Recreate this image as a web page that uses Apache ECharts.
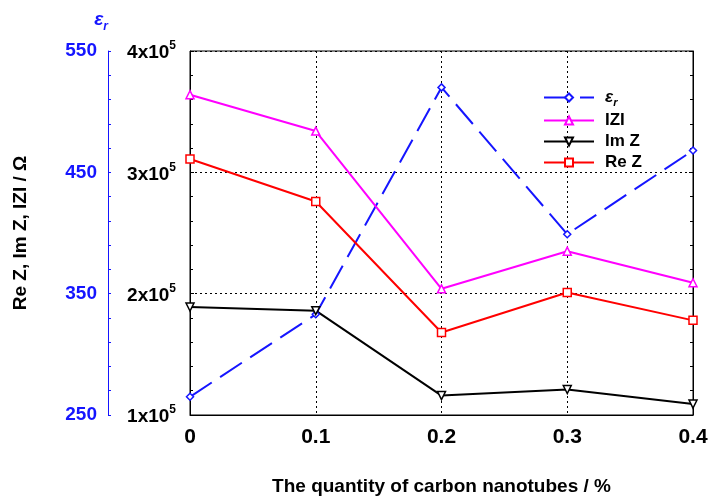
<!DOCTYPE html>
<html>
<head>
<meta charset="utf-8">
<script src="https://cdn.jsdelivr.net/npm/echarts@6/dist/echarts.min.js"></script>
<style>
    html, body {margin: 0; padding: 0; background: #fff;}
    #myCharts {width: 709px; height: 496px;}
</style>
</head>
<body>
<div id="myCharts"></div>
<script>
// 碳纳米管含量 / %
var cntContent = [0, 0.1, 0.2, 0.3, 0.4];
// 介电常数 εr
var epsValues = [265, 333, 520, 399, 468];
// 阻抗 |Z|, Im Z, Re Z (Ω)
var absZValues = [364000, 334000, 204000, 235000, 209000];
var imZValues = [189000, 186000, 116000, 121000, 109000];
var reZValues = [311000, 276000, 168000, 201000, 178000];
var zTicks = ['1x10', '2x10', '3x10', '4x10'];

function pairs(xs, ys) {
    var out = [];
    for (var i = 0; i < xs.length; i++) {
        out.push([xs[i], ys[i]]);
    }
    return out;
}

var font = 'Liberation Sans';
var blue = '#1515ff';

var myChart = echarts.init(document.getElementById('myCharts'));
var option = {
    backgroundColor: '#fff',
    animation: false,
    grid: {left: 190, right: 16, top: 51, bottom: 81, show: true, borderColor: '#000', borderWidth: 1,
        containLabel: false, outerBoundsMode: 'none'},
    legend: {
        orient: 'vertical',
        left: 543,
        top: 87,
        padding: 0,
        itemWidth: 50,
        itemHeight: 10,
        itemGap: 4,
        data: ['eps', 'IZI', 'Im Z', 'Re Z'],
        formatter: function (name) {
            if (name == 'eps') return '{e|ε}{r|r}';
            return name;
        },
        textStyle: {
            fontFamily: font, fontWeight: 'bold', fontSize: 17, color: '#000', lineHeight: 17, padding: [0, 0, 0, 6],
            rich: {
                e: {fontFamily: font, fontStyle: 'italic', fontWeight: 'bold', fontSize: 17, lineHeight: 17, color: '#000'},
                r: {fontFamily: font, fontStyle: 'italic', fontWeight: 'bold', fontSize: 11, lineHeight: 17, color: '#000', padding: [10, 0, 0, 0]}
            }
        }
    },
    xAxis: {
        type: 'value',
        min: 0, max: 0.4, interval: 0.1,
        name: 'The quantity of carbon nanotubes / %',
        nameLocation: 'middle',
        nameGap: 62,
        nameTextStyle: {fontFamily: font, fontWeight: 'bold', fontSize: 19, color: '#000'},
        axisLine: {lineStyle: {color: '#000', width: 1}},
        axisTick: {show: false},
        axisLabel: {fontFamily: font, fontWeight: 'bold', fontSize: 21, color: '#000', margin: 12,
            formatter: function (v) { return v === 0 ? '0' : v.toFixed(1); }},
        splitLine: {show: true, lineStyle: {color: '#000', type: [2, 3], width: 1}}
    },
    yAxis: [
        {
            type: 'value',
            position: 'left',
            min: 100000, max: 400000, interval: 100000,
            name: 'Re Z, Im Z, IZI / Ω',
            nameLocation: 'middle',
            nameGap: 160,
            nameTextStyle: {fontFamily: font, fontWeight: 'bold', fontSize: 19, color: '#000'},
            axisLine: {show: true, lineStyle: {color: '#000'}},
            axisTick: {show: true, inside: true, length: 4, lineStyle: {color: '#000'}},
            minorTick: {show: true, splitNumber: 5, length: 3, lineStyle: {color: '#000'}},
            axisLabel: {
                margin: 14,
                formatter: function (v) {
                    return '{a|' + zTicks[Math.round(v / 100000) - 1] + '}{s|5}';
                },
                rich: {
                    a: {fontFamily: font, fontWeight: 'bold', fontSize: 19, color: '#000', padding: [4, 0, 0, 0]},
                    s: {fontFamily: font, fontWeight: 'bold', fontSize: 12, color: '#000', padding: [0, 0, 10, 0]}
                }
            },
            splitLine: {show: true, lineStyle: {color: '#000', type: [2, 3], width: 1}}
        },
        {
            type: 'value',
            position: 'left',
            offset: 82,
            min: 250, max: 550, interval: 100,
            name: '{e|ε}{r|r}',
            nameLocation: 'end',
            nameGap: 18,
            nameTextStyle: {
                align: 'right',
                rich: {
                    e: {fontFamily: font, fontStyle: 'italic', fontWeight: 'bold', fontSize: 19, color: blue},
                    r: {fontFamily: font, fontStyle: 'italic', fontWeight: 'bold', fontSize: 12, color: blue, padding: [14, 0, 0, 0]}
                }
            },
            axisLine: {show: true, lineStyle: {color: blue, width: 1}},
            axisTick: {show: true, inside: true, length: 3, lineStyle: {color: blue}},
            minorTick: {show: true, splitNumber: 5, length: 3, lineStyle: {color: blue}},
            axisLabel: {fontFamily: font, fontWeight: 'bold', fontSize: 19, color: blue, margin: 11},
            splitLine: {show: false}
        },
        {
            type: 'value',
            position: 'right',
            min: 100000, max: 400000, interval: 100000,
            axisLine: {show: true, lineStyle: {color: '#000'}},
            axisTick: {show: true, inside: true, length: 4, lineStyle: {color: '#000'}},
            minorTick: {show: true, splitNumber: 5, length: 3, lineStyle: {color: '#000'}},
            axisLabel: {show: false},
            splitLine: {show: false}
        }
    ],
    series: [
        {
            name: 'eps', type: 'line', yAxisIndex: 1,
            data: pairs(cntContent, epsValues),
            symbol: 'diamond', symbolSize: 7,
            itemStyle: {color: '#fff', borderColor: blue, borderWidth: 1.5},
            lineStyle: {color: blue, width: 2, type: [26, 10]}
        },
        {
            name: 'IZI', type: 'line', yAxisIndex: 0,
            data: pairs(cntContent, absZValues),
            symbol: 'triangle', symbolSize: 8,
            itemStyle: {color: '#fff', borderColor: '#ff00ff', borderWidth: 1.5},
            lineStyle: {color: '#ff00ff', width: 2}
        },
        {
            name: 'Im Z', type: 'line', yAxisIndex: 0,
            data: pairs(cntContent, imZValues),
            symbol: 'triangle', symbolRotate: 180, symbolSize: 8,
            itemStyle: {color: '#fff', borderColor: '#000', borderWidth: 1.5},
            lineStyle: {color: '#000', width: 2}
        },
        {
            name: 'Re Z', type: 'line', yAxisIndex: 0,
            data: pairs(cntContent, reZValues),
            symbol: 'rect', symbolSize: 8,
            itemStyle: {color: '#fff', borderColor: '#ff0000', borderWidth: 1.5},
            lineStyle: {color: '#ff0000', width: 2}
        }
    ]
};
myChart.setOption(option);
</script>
</body>
</html>
